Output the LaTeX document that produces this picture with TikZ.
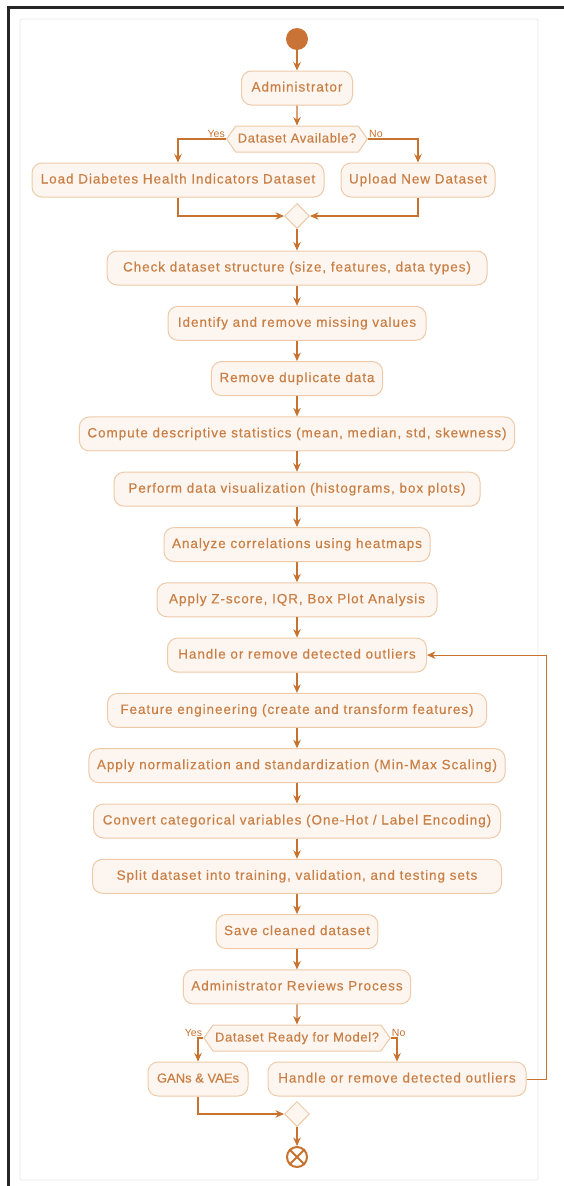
\documentclass[tikz,border=0pt]{standalone}
\usepackage{fontspec}
\newfontfamily\boxfont[LetterSpace=7,FakeBold=0.4]{Liberation Sans}
\newfontfamily\decfont[LetterSpace=5,FakeBold=0.4]{Liberation Sans}
\newfontfamily\tightfont[FakeBold=0.4]{Liberation Sans}
\newfontfamily\plainfont{Liberation Sans}
\usetikzlibrary{arrows.meta,shapes.symbols,shapes.geometric,calc}
\definecolor{ln}{HTML}{C8722F}
\definecolor{bd}{HTML}{EECAA8}
\definecolor{bg}{HTML}{FDF6F0}
\definecolor{tx}{HTML}{C97F45}
\definecolor{startc}{HTML}{C97436}
\begin{document}
\begin{tikzpicture}[x=1pt,y=-1pt,
  act/.style={draw=bd, fill=bg, rounded corners=10pt, line width=1pt, minimum height=34pt,
    inner xsep=8pt, text=tx, text height=9.5pt, text depth=2.5pt, font=\boxfont\fontsize{13.5}{15}\selectfont},
  tight/.style={font=\tightfont\fontsize{13}{15}\selectfont},
  dec/.style={shape=signal, signal to=west and east, signal pointer angle=110, draw=bd, fill=bg,
    line width=1pt, text=tx, text height=9.5pt, text depth=2.5pt, inner xsep=2pt, inner ysep=7pt,
    font=\decfont\fontsize{13}{15}\selectfont},
  mrg/.style={diamond, draw=bd, fill=bg, line width=1pt, minimum width=25pt, minimum height=25pt, inner sep=0pt},
  flow/.style={draw=ln, line width=1.1pt, -{Stealth[length=8.5pt,width=7.5pt]}},
  lbl/.style={text=ln, font=\plainfont\fontsize{10.5}{12}\selectfont, inner sep=1pt}
]
\useasboundingbox (0,0) rectangle (564,1186);
\fill[white] (0,0) rectangle (564,1186);
% frame
\draw[black!8, line width=0.8pt, rounded corners=2pt] (20,19) rectangle (538,1180);
\draw[black!85, line width=2.5pt] (8.5,1186) -- (8.5,7.5) -- (564,7.5);

% nodes
\node[circle, fill=startc, minimum size=22pt, inner sep=0pt] (start) at (297,39) {};
\node[act, minimum width=111pt] (admin) at (297,88) {Administrator};
\node[dec] (dec1) at (297,139) {Dataset Available?};
\node[act, minimum width=292pt] (load) at (178,180) {Load Diabetes Health Indicators Dataset};
\node[act, minimum width=148pt] (upload) at (418,180) {Upload New Dataset};
\node[mrg] (m1) at (297,216) {};

\node[act, minimum width=380pt] (check) at (297,268) {Check dataset structure (size, features, data types)};
\node[act, minimum width=258pt] (ident) at (297,323.3) {Identify and remove missing values};
\node[act, minimum width=167pt] (dup) at (297,378.6) {Remove duplicate data};
\node[act, minimum width=431pt] (stats) at (297,433.9) {Compute descriptive statistics (mean, median, std, skewness)};
\node[act, minimum width=366pt] (vis) at (297,489.2) {Perform data visualization (histograms, box plots)};
\node[act, minimum width=266pt] (corr) at (297,544.5) {Analyze correlations using heatmaps};
\node[act, minimum width=280pt] (zsc) at (297,599.8) {Apply Z-score, IQR, Box Plot Analysis};
\node[act, minimum width=259pt] (handle) at (297,655.1) {Handle or remove detected outliers};
\node[act, minimum width=379pt] (feat) at (297,710.4) {Feature engineering (create and transform features)};
\node[act, minimum width=416pt] (norm) at (297,765.7) {Apply normalization and standardization (Min-Max Scaling)};
\node[act, minimum width=407pt] (conv) at (297,821) {Convert categorical variables (One-Hot / Label Encoding)};
\node[act, minimum width=409pt] (split) at (297,876.3) {Split dataset into training, validation, and testing sets};
\node[act, minimum width=161pt] (save) at (297,931.6) {Save cleaned dataset};
\node[act, minimum width=222pt] (review) at (297,986.9) {Administrator Reviews Process};

\node[dec] (dec2) at (297,1038) {Dataset Ready for Model?};
\node[act, tight, minimum width=100pt] (gans) at (198,1079) {GANs \& VAEs};
\node[act, minimum width=258pt] (h2) at (397,1079) {Handle or remove detected outliers};
\node[mrg] (m2) at (297,1114) {};
\node[circle, draw=ln, line width=2pt, minimum size=20pt, inner sep=0pt] (end) at (297,1157) {};
\draw[ln, line width=2pt] (end.45) -- (end.225) (end.135) -- (end.315);

\coordinate (lp) at (546,0);

% connectors
\draw[flow] (start) -- (admin);
\draw[flow] (admin) -- (dec1);
\draw[flow] (dec1.west) -| (load.north);
\draw[flow] (dec1.east) -| (upload.north);
\node[lbl, anchor=south east] at (dec1.west) {Yes};
\node[lbl, anchor=south west] at (dec1.east) {No};
\draw[flow] (load.south) |- (m1.west);
\draw[flow] (upload.south) |- (m1.east);
\draw[flow] (m1) -- (check);
\draw[flow] (check) -- (ident);
\draw[flow] (ident) -- (dup);
\draw[flow] (dup) -- (stats);
\draw[flow] (stats) -- (vis);
\draw[flow] (vis) -- (corr);
\draw[flow] (corr) -- (zsc);
\draw[flow] (zsc) -- (handle);
\draw[flow] (handle) -- (feat);
\draw[flow] (feat) -- (norm);
\draw[flow] (norm) -- (conv);
\draw[flow] (conv) -- (split);
\draw[flow] (split) -- (save);
\draw[flow] (save) -- (review);
\draw[flow] (review) -- (dec2);
\draw[flow] (dec2.west) -| (gans.north);
\draw[flow] (dec2.east) -| (h2.north);
\node[lbl, anchor=south east] at (dec2.west) {Yes};
\node[lbl, anchor=south west] at (dec2.east) {No};
\draw[flow] (gans.south) |- (m2.west);
\draw[flow, line width=1pt] (h2.east) -- (h2.east -| lp) |- (handle.east);
\draw[flow] (m2) -- (end);
\end{tikzpicture}
\end{document}
